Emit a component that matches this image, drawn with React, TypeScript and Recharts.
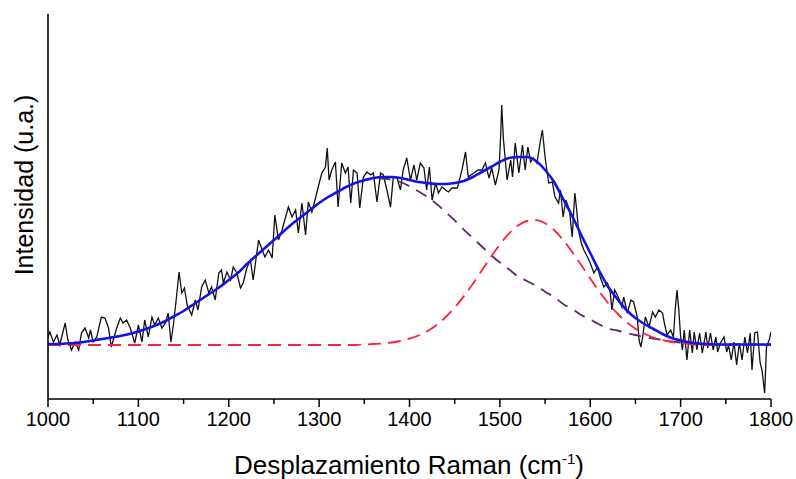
import React from 'react';
import { ComposedChart, Line, XAxis, YAxis } from 'recharts';

// Raman shift grid for the fitted curves (cm-1)
const fitShift = [
  1000, 1010, 1020, 1030, 1040, 1050, 1060, 1070, 1080, 1090,
  1100, 1110, 1120, 1130, 1140, 1150, 1160, 1170, 1180, 1190,
  1200, 1210, 1220, 1230, 1240, 1250, 1260, 1270, 1280, 1290,
  1300, 1310, 1320, 1330, 1340, 1350, 1360, 1370, 1380, 1390,
  1400, 1410, 1420, 1430, 1440, 1450, 1460, 1470, 1480, 1490,
  1500, 1510, 1520, 1530, 1540, 1550, 1560, 1570, 1580, 1590,
  1600, 1610, 1620, 1630, 1640, 1650, 1660, 1670, 1680, 1690,
  1700, 1710, 1720, 1730, 1740, 1750, 1760, 1770, 1780, 1790, 1800,
];

// cumulative fit (blue)
const fitTotal = [
  55, 55, 55.5, 56, 57, 58.5, 60, 61.5, 63, 65,
  67.5, 70.5, 74, 78, 83, 88, 94, 100, 106, 112,
  119, 126, 135, 143, 151, 159, 167, 175, 182, 189,
  196, 202, 207, 212, 216, 219, 221, 222, 222, 221,
  219, 217, 216, 215, 215, 216, 218, 222, 227, 232,
  237, 241, 242, 242, 238, 229, 217, 200, 183, 164,
  146, 128, 112, 100, 89, 81, 75, 70, 65, 61,
  58.5, 56.5, 55.5, 55, 54.5, 54.5, 54.5, 54.5, 54.5, 54.5, 54.5,
];

// D band component (purple dashed)
const bandD = [
  55, 55, 55.5, 56, 57, 58.5, 60, 61.5, 63, 65,
  67.5, 70.5, 74, 78, 83, 88, 94, 100, 106, 112,
  119, 126, 135, 143, 151, 159, 167, 175, 182, 189,
  196, 202, 207, 212, 216, 218.5, 220, 220.5, 219.5, 217,
  212.7, 207.5, 202, 195, 187, 178.6, 169.4, 161, 152.5, 144,
  136.5, 129.7, 122.6, 118, 113.2, 107.3, 102, 95, 90, 84,
  79.6, 74.5, 70.3, 68.5, 66, 64, 62, 60.5, 59, 57.5,
  56.5, 55.8, 55.2, 54.8, 54.5, 54.5, 54.5, 54.5, 54.5, 54.5, 54.5,
];

// G band component (red dashed)
const bandG = [
  54, 54, 54, 54, 54, 54, 54, 54, 54, 54,
  54, 54, 54, 54, 54, 54, 54, 54, 54, 54,
  54, 54, 54, 54, 54, 54, 54, 54, 54, 54,
  54, 54, 54, 54, 54, 54.5, 55, 55.5, 56.5, 58,
  60.3, 63.5, 68, 74, 82, 91.4, 102.6, 115, 128.5, 142,
  154.5, 165.3, 173.4, 178, 178.8, 175.7, 169, 159, 147, 134,
  120.4, 107.5, 95.7, 85.5, 77, 70.3, 65.2, 61.5, 58.8, 57,
  55.8, 55, 54.5, 54, 54, 54, 54, 54, 54, 54, 54,
];

// measured spectrum (black)
const rawShift = [
  1000, 1002, 1006, 1010, 1013, 1019, 1022, 1026, 1030, 1034, 1037, 1041, 1045, 1047, 1050, 1054,
  1059, 1063, 1067, 1070, 1076, 1080, 1083, 1087, 1091, 1096, 1100, 1104, 1107, 1111, 1115, 1118,
  1122, 1126, 1130, 1133, 1136, 1139, 1143, 1145, 1148, 1151, 1154, 1159, 1163, 1166, 1170, 1174,
  1178, 1181, 1185, 1189, 1192, 1194, 1198, 1202, 1205, 1209, 1213, 1216, 1220, 1224, 1227, 1230,
  1233, 1237, 1240, 1244, 1248, 1251, 1255, 1259, 1262, 1266, 1270, 1274, 1277, 1281, 1285, 1288,
  1292, 1296, 1299, 1303, 1307, 1309, 1311, 1314, 1318, 1321, 1325, 1329, 1332, 1335, 1338, 1342,
  1345, 1349, 1353, 1357, 1360, 1364, 1368, 1371, 1375, 1379, 1382, 1386, 1390, 1393, 1397, 1401,
  1405, 1408, 1412, 1416, 1419, 1422, 1425, 1429, 1432, 1436, 1440, 1443, 1447, 1453, 1458, 1462,
  1465, 1471, 1476, 1480, 1484, 1488, 1491, 1495, 1499, 1501, 1502, 1504, 1508, 1512, 1514, 1517,
  1521, 1525, 1528, 1531, 1534, 1537, 1541, 1545, 1547, 1550, 1554, 1558, 1561, 1565, 1567, 1570,
  1573, 1577, 1580, 1583, 1585, 1587, 1590, 1593, 1597, 1600, 1604, 1608, 1611, 1615, 1619, 1622,
  1624, 1627, 1631, 1635, 1637, 1641, 1645, 1648, 1652, 1654, 1656, 1658, 1661, 1665, 1669, 1672,
  1676, 1680, 1682, 1685, 1689, 1692, 1694, 1696, 1698, 1700, 1702, 1704, 1707, 1710, 1713, 1715,
  1718, 1721, 1724, 1728, 1730, 1733, 1736, 1739, 1741, 1744, 1748, 1751, 1753, 1756, 1759, 1762,
  1765, 1768, 1771, 1774, 1777, 1779, 1782, 1785, 1788, 1790, 1793, 1795, 1798, 1800,
];

const rawIntensity = [
  62, 67, 57, 64, 54, 76, 59, 49, 57, 49, 66, 71, 61, 69, 57, 62,
  82, 81, 71, 52, 71, 81, 76, 79, 71, 56, 74, 57, 79, 62, 82, 74,
  81, 71, 76, 86, 57, 76, 109, 127, 106, 111, 94, 84, 99, 89, 112, 119,
  106, 112, 99, 126, 129, 116, 127, 119, 132, 126, 111, 116, 131, 139, 119, 139,
  159, 149, 142, 149, 141, 184, 159, 169, 179, 192, 182, 189, 166, 196, 164, 197,
  187, 201, 212, 226, 232, 251, 219, 229, 237, 192, 236, 226, 232, 196, 229, 226,
  191, 222, 227, 224, 226, 197, 226, 224, 209, 192, 221, 222, 209, 229, 241, 219,
  234, 219, 236, 231, 209, 232, 199, 216, 206, 212, 209, 207, 211, 211, 229, 247,
  222, 226, 229, 229, 236, 221, 231, 214, 229, 266, 294, 259, 219, 239, 222, 256,
  226, 254, 229, 252, 237, 241, 236, 259, 269, 242, 216, 217, 202, 196, 209, 182,
  199, 189, 162, 206, 189, 169, 156, 149, 142, 136, 126, 132, 122, 112, 116, 107,
  89, 109, 102, 92, 102, 86, 99, 97, 82, 59, 52, 62, 82, 72, 87, 82,
  89, 86, 76, 64, 69, 62, 89, 109, 89, 62, 49, 69, 39, 69, 46, 67,
  49, 66, 46, 67, 51, 66, 49, 62, 47, 56, 62, 47, 54, 39, 57, 34,
  56, 39, 62, 46, 66, 29, 66, 67, 36, 29, 6, 52, 59, 67,
];

const xTicks = [
  1000, 1050, 1100, 1150, 1200, 1250, 1300, 1350, 1400,
  1450, 1500, 1550, 1600, 1650, 1700, 1750, 1800,
];

const fitData = fitShift.map((x, i) => ({
  x,
  total: fitTotal[i],
  d: bandD[i],
  g: bandG[i],
}));

const rawData = rawShift.map((x, i) => ({ x, y: rawIntensity[i] }));

const FONT = '"Liberation Sans", Arial, Helvetica, sans-serif';

const XTick = (props: any) => {
  const { x, y, payload } = props;
  const major = payload.value % 100 === 0;
  return (
    <g>
      <line x1={x} x2={x} y1={y} y2={y + (major ? 8 : 5)} stroke="#000" strokeWidth={1.5} />
      {major && (
        <text x={x} y={y + 27} textAnchor="middle" fontSize={20} fontFamily={FONT} fill="#000">
          {payload.value}
        </text>
      )}
    </g>
  );
};

const XTitle = () => (
  <text x={409} y={474} textAnchor="middle" fontSize={26} fontFamily={FONT} fill="#000">
    <tspan>Desplazamiento Raman (cm</tspan>
    <tspan dy={-10} fontSize={15}>-1</tspan>
    <tspan dy={10}>)</tspan>
  </text>
);

const YTitle = () => (
  <text
    x={33}
    y={185}
    transform="rotate(-90, 33, 185)"
    textAnchor="middle"
    fontSize={25}
    fontFamily={FONT}
    fill="#000"
  >
    Intensidad (u.a.)
  </text>
);

export default function App() {
  return (
    <div style={{ position: 'absolute', left: 0, top: 0, width: 796, height: 479, background: '#fff' }}>
      <ComposedChart
        width={796}
        height={479}
        margin={{ top: 14, right: 25, bottom: 0, left: 0 }}
      >
        <XAxis
          type="number"
          dataKey="x"
          domain={[1000, 1800]}
          ticks={xTicks}
          interval={0}
          height={80}
          tickSize={0}
          tickMargin={0}
          tickLine={false}
          tick={<XTick />}
          axisLine={{ stroke: '#000', strokeWidth: 1.6 }}
          allowDataOverflow
          label={<XTitle />}
        />
        <YAxis
          type="number"
          domain={[0, 385]}
          width={48}
          tick={false}
          tickLine={false}
          axisLine={{ stroke: '#000', strokeWidth: 1.6 }}
          allowDataOverflow
          label={<YTitle />}
        />
        <Line
          data={rawData}
          dataKey="y"
          type="linear"
          stroke="#111"
          strokeWidth={1.3}
          dot={false}
          isAnimationActive={false}
        />
        <Line
          data={fitData}
          dataKey="d"
          type="monotone"
          stroke="#5e2a66"
          strokeWidth={1.8}
          strokeDasharray="12 8"
          dot={false}
          isAnimationActive={false}
        />
        <Line
          data={fitData}
          dataKey="g"
          type="monotone"
          stroke="#ff2040"
          strokeWidth={1.8}
          strokeDasharray="13 7"
          dot={false}
          isAnimationActive={false}
        />
        <Line
          data={fitData}
          dataKey="total"
          type="monotone"
          stroke="#1414e0"
          strokeWidth={2.6}
          dot={false}
          isAnimationActive={false}
        />
      </ComposedChart>
    </div>
  );
}
